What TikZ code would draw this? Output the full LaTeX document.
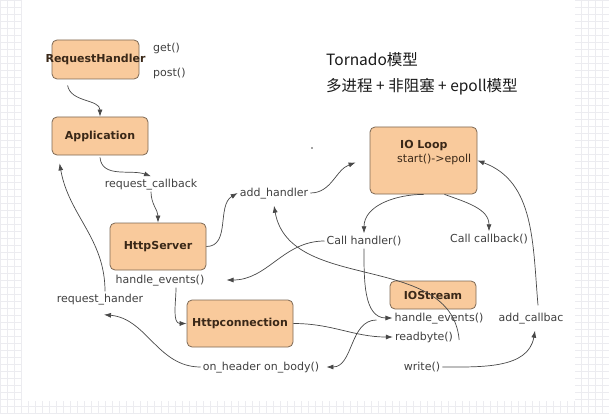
\documentclass[tikz,border=0pt]{standalone}
\usepackage{fontspec}
\setmainfont{DejaVu Sans}
\newfontfamily\cjk{Noto Sans CJK SC}
\usetikzlibrary{arrows.meta}

\definecolor{boxfill}{RGB}{249,202,156}
\definecolor{boxline}{RGB}{125,105,85}
\definecolor{boxtext}{RGB}{58,40,24}
\definecolor{labeltext}{RGB}{64,64,64}
\definecolor{wire}{RGB}{72,72,72}
\definecolor{gridgray}{RGB}{236,236,240}

\begin{document}
\begin{tikzpicture}[
    x=1pt, y=1pt,
    every node/.style={
        align=center,
        font=\fontsize{11}{13}\selectfont
    },
    box/.style={
        draw=boxline,
        fill=boxfill,
        rounded corners=5pt,
        line width=0.8pt,
        inner sep=0pt,
        text=boxtext,
        font=\bfseries\fontsize{11}{13}\selectfont
    },
    lbl/.style={
        text=labeltext,
        inner sep=2pt,
        text height=8.5pt,
        text depth=2.5pt
    },
    title/.style={
        anchor=west,
        inner sep=0pt,
        text=black!90,
        font=\cjk\fontsize{15.5}{17}\selectfont
    },
    link/.style={->, draw=wire, line width=0.7pt},
    >={Latex[length=7pt,width=5pt]}
]

% Page
\fill[white] (0,0) rectangle (609,-414);
\useasboundingbox (0,0) rectangle (609,-414);
\draw[gridgray, step=7] (0,-414) grid (22,0);
\draw[gridgray, step=7] (575,-414) grid (609,0);
\draw[gridgray, step=7] (22,-414) grid (575,-401);

% Title
\node[title] (title_a) at (326,-60) {Tornado模型};
\node[title] (title_b) at (326,-87) {多进程 + 非阻塞 + epoll模型};
\node[circle, fill=wire, inner sep=0.6pt] (dot) at (312,-148) {};

% Boxes
\node[box, minimum width=87pt, minimum height=39pt] (req) at (95.5,-59.5)
{\makebox[0pt]{RequestHandler}};

\node[box, minimum width=96pt, minimum height=38pt] (app) at (100,-136)
{Application};

\node[box, minimum width=96pt, minimum height=47pt] (srv) at (158,-246.5)
{HttpServer};

\node[box, minimum width=106pt, minimum height=47pt] (conn) at (240,-323.5)
{Httpconnection};

\node[box, minimum width=107pt, minimum height=67pt] (loop) at (423.5,-160.5) {};
\node[align=left, anchor=west, inner sep=0pt, text=boxtext] (loop_txt) at (397,-153)
{\hspace{3pt}\textbf{IO Loop}\\[1pt]start()->epoll};

\node[box, minimum width=86pt, minimum height=28pt] (stream) at (433,-295)
{IOStream};

% Labels
\node[lbl, anchor=west] (get) at (151,-49) {get()};
\node[lbl, anchor=west] (post) at (151,-74) {post()};
\node[lbl] (cb) at (151,-184) {request\_callback};
\node[lbl] (hev_srv) at (160,-280) {handle\_events()};
\node[lbl] (reqh) at (100,-299) {request\_hander};
\node[lbl] (onhb) at (261,-367) {on\_header on\_body()};
\node[lbl] (addh) at (274,-193) {add\_handler};
\node[lbl] (callh) at (364,-241) {Call handler()};
\node[lbl] (callcb) at (489,-239) {Call callback()};
\node[lbl] (hev_io) at (439,-318) {handle\_events()};
\node[lbl] (rbyte) at (424,-337) {readbyte()};
\node[lbl] (addcb) at (531,-318) {add\_callbac};
\node[lbl] (wr) at (422,-367) {write()};

% Connections
\draw[link] ([xshift=16pt,yshift=-6pt]req.south west) to[out=-80,in=90] (app.north);
\draw[link] ([yshift=-2pt]app.south) to[out=-85,in=160] (cb.north);
\draw[link] (cb.south) to[out=-90,in=90] (srv.north);
\draw[link] (srv.east) to[out=0,in=210] (addh.west);
\draw[link] (addh.east) to[out=0,in=200] ([xshift=-14pt,yshift=-2pt]loop.west);

\draw[link] (loop.south) to[out=180,in=90] (callh.north);
\draw[link] ([xshift=21pt]loop.south) to[out=-20,in=90] (callcb.north);
\draw[link] (callh.west) to[out=180,in=0] ([xshift=20pt]hev_srv.east);
\draw[link] (callh.south) to[out=-90,in=180] (hev_io.west);

\draw[link] ([xshift=16pt]hev_srv.south) to[out=-90,in=180] (conn.west);
\draw[link] (conn.east) to[out=0,in=180] (rbyte.west);
\draw[link] ([xshift=-16pt,yshift=-2pt]hev_io.west) to[out=180,in=0] ([xshift=5pt]onhb.east);
\draw[link] (onhb.west) to[out=180,in=-5] ([xshift=4pt,yshift=-8pt]reqh.south);
\draw[link] ([xshift=5pt]reqh.north) to[out=90,in=-80] ([xshift=8pt,yshift=-8pt]app.south west);

\draw[link] ([xshift=4pt,yshift=-3pt]rbyte.east) to[out=95,in=-80] ([yshift=-5pt]addh.south);
\draw[link] (wr.east) to[out=0,in=-100] ([xshift=4pt,yshift=-5pt]addcb.south);
\draw[link] ([xshift=7pt,yshift=5pt]addcb.north) to[out=95,in=-20] (loop.east);

\end{tikzpicture}
\end{document}
